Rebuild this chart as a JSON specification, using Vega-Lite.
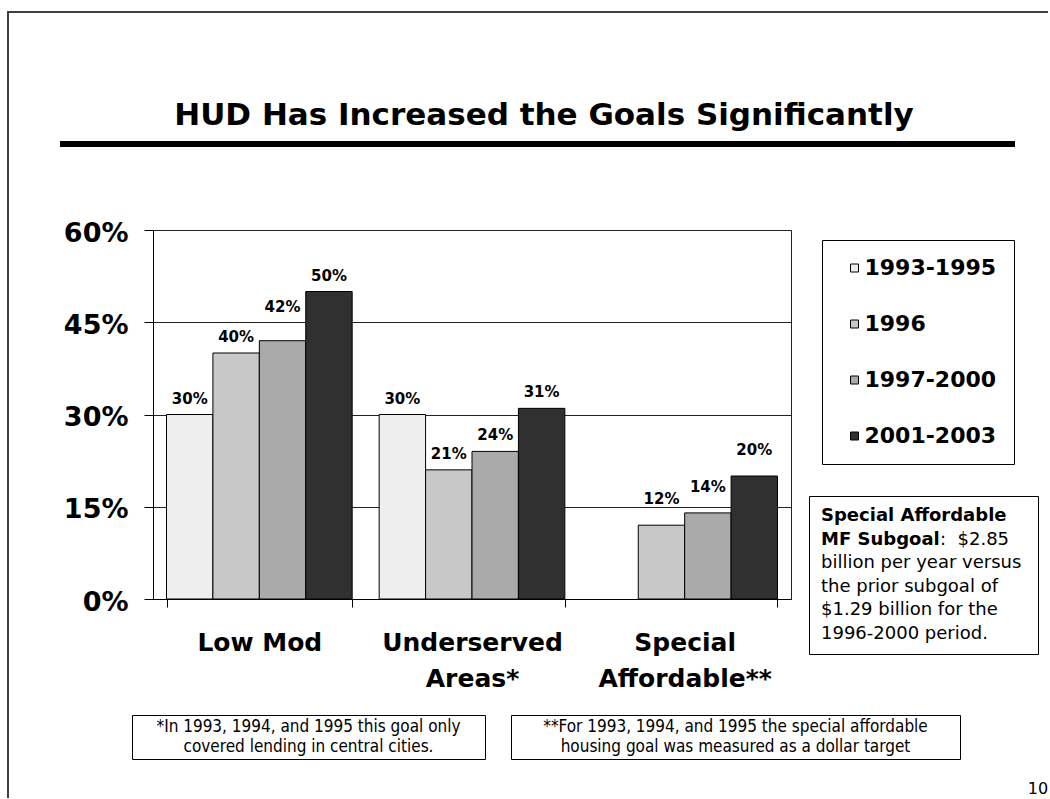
{
"$schema": "https://vega.github.io/schema/vega-lite/v6.json",
"background": "white",
"padding": {"left": 7, "top": 11, "right": 0, "bottom": 0},
"autosize": {"type": "pad"},
"config": {"view": {"stroke": null}, "concat": {"spacing": 0}, "font": "DejaVu Sans"},
"datasets": {
  "goals": [
    {"goal": "Low Mod", "period": "1993-1995", "value": 0.30},
    {"goal": "Low Mod", "period": "1996", "value": 0.40},
    {"goal": "Low Mod", "period": "1997-2000", "value": 0.42},
    {"goal": "Low Mod", "period": "2001-2003", "value": 0.50},
    {"goal": "Underserved Areas*", "period": "1993-1995", "value": 0.30},
    {"goal": "Underserved Areas*", "period": "1996", "value": 0.21},
    {"goal": "Underserved Areas*", "period": "1997-2000", "value": 0.24},
    {"goal": "Underserved Areas*", "period": "2001-2003", "value": 0.31},
    {"goal": "Special Affordable**", "period": "1996", "value": 0.12},
    {"goal": "Special Affordable**", "period": "1997-2000", "value": 0.14},
    {"goal": "Special Affordable**", "period": "2001-2003", "value": 0.20}
  ],
  "heading": [{"text": "HUD Has Increased the Goals Significantly"}],
  "boxBold": [
    {"line": 1, "text": "Special Affordable"},
    {"line": 2, "text": "MF Subgoal"}
  ],
  "boxRegular": [
    {"line": 2, "text": ":\u00a0 $2.85"},
    {"line": 3, "text": "billion per year versus"},
    {"line": 4, "text": "the prior subgoal of"},
    {"line": 5, "text": "$1.29 billion for the"},
    {"line": 6, "text": "1996-2000 period."}
  ],
  "note1": [
    {"line": 1, "text": "*In 1993, 1994, and 1995 this goal only"},
    {"line": 2, "text": "covered lending in central cities."}
  ],
  "note2": [
    {"line": 1, "text": "**For 1993, 1994, and 1995 the special affordable"},
    {"line": 2, "text": "housing goal was measured as a dollar target"}
  ],
  "page": [{"text": "10"}]
},
"bounds": "flush",
"spacing": 0,
"hconcat": [
  {"width": 0.01, "height": 785, "view": {"stroke": "#404040", "strokeWidth": 2}, "data": {"values": []}, "mark": {"type": "point", "opacity": 0}},
  {
    "bounds": "full",
    "spacing": 0,
    "vconcat": [
      {"width": 1038, "height": 0.01, "view": {"stroke": "#404040", "strokeWidth": 2}, "data": {"values": []}, "mark": {"type": "point", "opacity": 0}},
      {
        "width": 1038, "height": 127,
        "data": {"name": "heading"},
        "mark": {"type": "text", "font": "DejaVu Sans", "fontWeight": "bold", "fontSize": 31, "baseline": "alphabetic", "align": "center", "dx": 16, "dy": 47.5, "fill": "black"},
        "encoding": {"text": {"field": "text"}}
      },
      {
        "bounds": "flush", "spacing": 0,
        "hconcat": [
          {"width": 54, "height": 0.01, "data": {"values": []}, "mark": {"type": "point", "opacity": 0}},
          {"width": 949, "height": 0.01, "view": {"stroke": "black", "strokeWidth": 6}, "data": {"values": []}, "mark": {"type": "point", "opacity": 0}}
        ]
      },
      {"width": 1, "height": 69.5, "data": {"values": []}, "mark": {"type": "point", "opacity": 0}},
      {
        "bounds": "flush", "spacing": 0,
        "hconcat": [
          {"width": 144, "height": 0.01, "data": {"values": []}, "mark": {"type": "point", "opacity": 0}},
          {
            "width": 638, "height": 369,
            "view": {"stroke": "#222222", "strokeWidth": 1},
            "data": {"name": "goals"},
            "encoding": {
              "x": {
                "field": "goal", "type": "nominal",
                "sort": ["Low Mod", "Underserved Areas*", "Special Affordable**"],
                "scale": {"paddingInner": 0.127, "paddingOuter": 0.0635},
                "axis": {
                  "title": null, "labelAngle": 0, "labelLimit": 400,
                  "labelFont": "DejaVu Sans", "labelFontWeight": "bold", "labelFontSize": 25, "labelColor": "black",
                  "labelLineHeight": 36, "labelPadding": 23,
                  "labelExpr": "datum.label == 'Low Mod' ? datum.label : split(datum.label, ' ')",
                  "tickSize": 8, "tickBand": "extent", "tickColor": "black", "domainColor": "black"
                }
              },
              "xOffset": {
                "field": "period", "type": "nominal",
                "scale": {"domain": ["1993-1995", "1996", "1997-2000", "2001-2003"], "paddingInner": 0, "paddingOuter": 0}
              },
              "y": {
                "field": "value", "type": "quantitative",
                "scale": {"domain": [0, 0.6], "nice": false},
                "axis": {
                  "title": null, "values": [0, 0.15, 0.3, 0.45, 0.6], "format": ".0%",
                  "labelFont": "DejaVu Sans", "labelFontWeight": "bold", "labelFontSize": 27, "labelColor": "black",
                  "labelPadding": 16, "labelOffset": 3,
                  "tickSize": 9, "tickColor": "black", "domainColor": "black",
                  "grid": true, "gridColor": "#222222", "gridOpacity": 1
                }
              }
            },
            "layer": [
              {
                "mark": {"type": "bar", "stroke": "black", "strokeWidth": 1},
                "encoding": {
                  "fill": {
                    "field": "period", "type": "nominal",
                    "scale": {"domain": ["1993-1995", "1996", "1997-2000", "2001-2003"], "range": ["#eeeeee", "#c8c8c8", "#aaaaaa", "#303030"]},
                    "legend": {
                      "title": null, "orient": "none", "legendX": 814, "legendY": 228,
                      "strokeColor": "black", "fillColor": "white", "padding": 17,
                      "symbolType": "square", "symbolSize": 64, "symbolStrokeColor": "black", "symbolStrokeWidth": 1, "symbolOffset": 4.5,
                      "labelFont": "DejaVu Sans", "labelFontWeight": "bold", "labelFontSize": 22, "labelColor": "black",
                      "labelOffset": -1, "rowPadding": 34
                    }
                  }
                }
              },
              {
                "transform": [{"filter": "datum.goal == 'Underserved Areas*' || (datum.goal == 'Low Mod' && datum.period != '1997-2000')"}],
                "mark": {"type": "text", "font": "DejaVu Sans", "fontWeight": "bold", "fontSize": 15, "baseline": "middle", "fill": "black", "dy": -16},
                "encoding": {"text": {"field": "value", "type": "quantitative", "format": ".0%"}}
              },
              {
                "transform": [{"filter": "datum.goal == 'Low Mod' && datum.period == '1997-2000'"}],
                "mark": {"type": "text", "font": "DejaVu Sans", "fontWeight": "bold", "fontSize": 15, "baseline": "middle", "fill": "black", "dy": -34},
                "encoding": {"text": {"field": "value", "type": "quantitative", "format": ".0%"}}
              },
              {
                "transform": [{"filter": "datum.goal == 'Special Affordable**'"}],
                "mark": {"type": "text", "font": "DejaVu Sans", "fontWeight": "bold", "fontSize": 15, "baseline": "middle", "fill": "black", "dy": -26},
                "encoding": {"text": {"field": "value", "type": "quantitative", "format": ".0%"}}
              }
            ]
          },
          {"width": 18, "height": 0.01, "data": {"values": []}, "mark": {"type": "point", "opacity": 0}},
          {
            "bounds": "flush", "spacing": 0,
            "vconcat": [
              {"width": 1, "height": 266, "data": {"values": []}, "mark": {"type": "point", "opacity": 0}},
              {
                "width": 229, "height": 158,
                "view": {"stroke": "black", "strokeWidth": 1},
                "encoding": {
                  "y": {"field": "line", "type": "ordinal", "scale": {"type": "point", "domain": [1, 2, 3, 4, 5, 6], "padding": 0.862}, "axis": null},
                  "x": {"datum": 0, "type": "quantitative", "scale": {"domain": [0, 1]}, "axis": null}
                },
                "layer": [
                  {
                    "data": {"name": "boxBold"},
                    "mark": {"type": "text", "align": "left", "baseline": "middle", "font": "DejaVu Sans", "fontWeight": "bold", "fontSize": 18, "fill": "black", "dx": 12},
                    "encoding": {"text": {"field": "text"}}
                  },
                  {
                    "data": {"name": "boxRegular"},
                    "transform": [{"filter": "datum.line == 2"}],
                    "mark": {"type": "text", "align": "left", "baseline": "middle", "font": "DejaVu Sans", "fontSize": 18, "fill": "black", "dx": 131},
                    "encoding": {"text": {"field": "text"}}
                  },
                  {
                    "data": {"name": "boxRegular"},
                    "transform": [{"filter": "datum.line > 2"}],
                    "mark": {"type": "text", "align": "left", "baseline": "middle", "font": "DejaVu Sans", "fontSize": 18, "fill": "black", "dx": 12},
                    "encoding": {"text": {"field": "text"}}
                  }
                ]
              }
            ]
          }
        ]
      },
      {"width": 1, "height": 21.5, "data": {"values": []}, "mark": {"type": "point", "opacity": 0}},
      {
        "bounds": "flush", "spacing": 0,
        "hconcat": [
          {"width": 123, "height": 0.01, "data": {"values": []}, "mark": {"type": "point", "opacity": 0}},
          {
            "width": 353, "height": 44,
            "view": {"stroke": "black", "strokeWidth": 1},
            "data": {"name": "note1"},
            "mark": {"type": "text", "align": "center", "baseline": "middle", "font": "DejaVu Sans Condensed, DejaVu Sans", "fontSize": 17, "fill": "black"},
            "encoding": {
              "y": {"field": "line", "type": "ordinal", "scale": {"type": "point", "domain": [1, 2], "padding": 0.6}, "axis": null},
              "text": {"field": "text"}
            }
          },
          {"width": 26, "height": 0.01, "data": {"values": []}, "mark": {"type": "point", "opacity": 0}},
          {
            "width": 449, "height": 44,
            "view": {"stroke": "black", "strokeWidth": 1},
            "data": {"name": "note2"},
            "mark": {"type": "text", "align": "center", "baseline": "middle", "font": "DejaVu Sans Condensed, DejaVu Sans", "fontSize": 17, "fill": "black"},
            "encoding": {
              "y": {"field": "line", "type": "ordinal", "scale": {"type": "point", "domain": [1, 2], "padding": 0.6}, "axis": null},
              "text": {"field": "text"}
            }
          }
        ]
      },
      {"width": 1, "height": 19.5, "data": {"values": []}, "mark": {"type": "point", "opacity": 0}},
      {
        "bounds": "flush", "spacing": 0,
        "hconcat": [
          {"width": 1019, "height": 0.01, "data": {"values": []}, "mark": {"type": "point", "opacity": 0}},
          {
            "width": 20, "height": 18,
            "data": {"name": "page"},
            "mark": {"type": "text", "align": "center", "baseline": "middle", "font": "DejaVu Sans", "fontSize": 16, "fill": "black"},
            "encoding": {"text": {"field": "text"}}
          }
        ]
      }
    ]
  }
]
}
